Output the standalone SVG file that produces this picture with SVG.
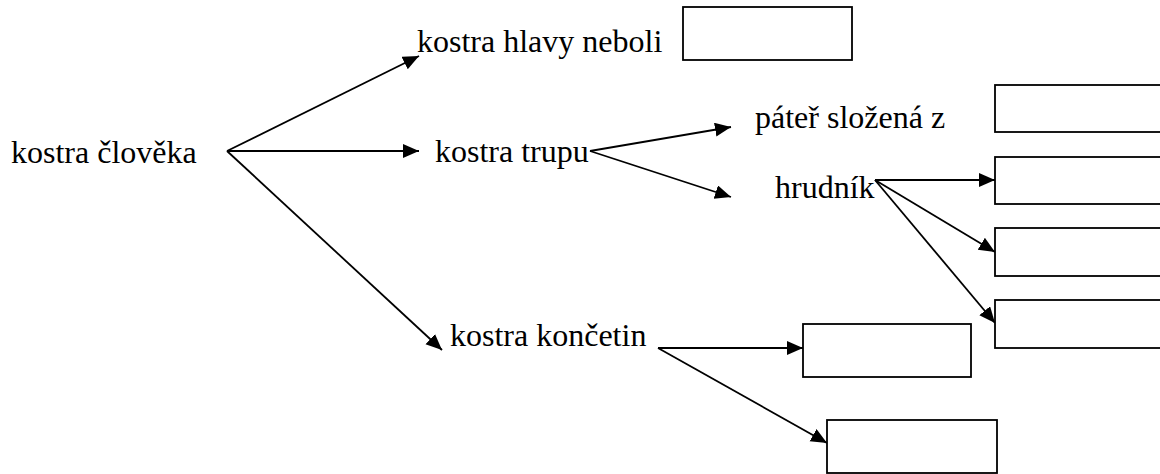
<svg xmlns="http://www.w3.org/2000/svg" width="1160" height="474" viewBox="0 0 1160 474">
<defs>
<marker id="ah" markerUnits="userSpaceOnUse" markerWidth="18" markerHeight="16" refX="16" refY="7" orient="auto">
<path d="M0,0 L16,7 L0,14 z" fill="#000"/>
</marker>
<style>
.t{font-family:'Liberation Serif','Times New Roman',serif;font-size:32px;fill:#000}
.b{fill:#fff;stroke:#000;stroke-width:1.8}
.c line{stroke:#000;stroke-width:1.8;marker-end:url(#ah)}
</style>
</defs>
<rect width="1160" height="474" fill="#fff"/>
<g id="connectors" class="c">
<line x1="227" y1="151" x2="419" y2="56"/>
<line x1="227" y1="151" x2="419" y2="151"/>
<line x1="227" y1="151" x2="442" y2="350"/>
<line x1="590" y1="151" x2="731" y2="127"/>
<line x1="590" y1="151" x2="731" y2="197"/>
<line x1="875" y1="180" x2="995" y2="180"/>
<line x1="875" y1="180" x2="995" y2="252"/>
<line x1="875" y1="180" x2="995" y2="323"/>
<line x1="658" y1="348" x2="803" y2="348"/>
<line x1="658" y1="348" x2="827" y2="443"/>
</g>
<g id="n-clovek"><text class="t" x="11" y="163">kostra člověka</text></g>
<g id="n-hlava"><text class="t" x="417" y="52">kostra hlavy neboli</text></g>
<g id="n-trup"><text class="t" x="435" y="162">kostra trupu</text></g>
<g id="n-pater"><text class="t" x="755" y="128">páteř složená z</text></g>
<g id="n-hrudnik"><text class="t" x="775" y="198">hrudník</text></g>
<g id="n-koncetiny"><text class="t" x="450" y="346">kostra končetin</text></g>
<g id="n-hlava-box"><rect class="b" x="683" y="7" width="169" height="53"/></g>
<g id="n-pater-box"><rect class="b" x="995" y="85" width="180" height="47"/></g>
<g id="n-box2"><rect class="b" x="995" y="157" width="180" height="47"/></g>
<g id="n-box3"><rect class="b" x="995" y="228" width="180" height="48"/></g>
<g id="n-box4"><rect class="b" x="995" y="300" width="180" height="48"/></g>
<g id="n-box5"><rect class="b" x="803" y="324" width="168" height="53"/></g>
<g id="n-box6"><rect class="b" x="827" y="420" width="170" height="53"/></g>
</svg>
